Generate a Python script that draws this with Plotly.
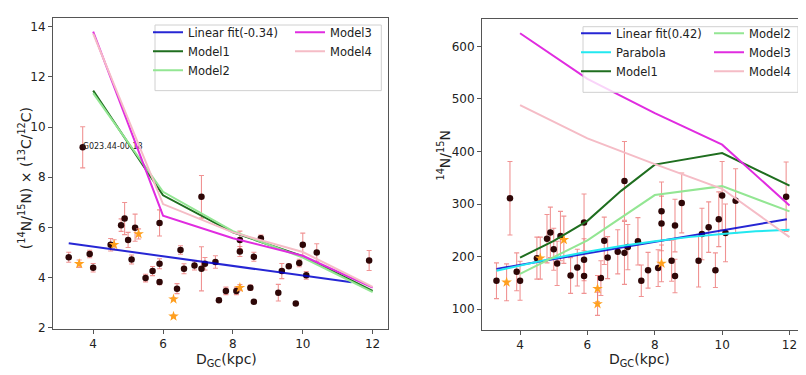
import plotly.graph_objects as go

# ---------------- data ----------------
dgc = [3.30, 3.70, 3.90, 4.00, 4.50, 4.80, 4.90, 5.00, 5.10, 5.20, 5.50, 5.70, 5.90, 5.90, 5.90,
       6.40, 6.50, 6.60, 6.90, 7.10, 7.10, 7.20, 7.50, 7.60, 7.80, 8.10, 8.20, 8.20, 8.50, 8.60,
       8.60, 8.80, 9.30, 9.40, 9.60, 9.80, 9.90, 10.00, 10.10, 10.40, 11.90]
src_labels = ["", "G023.44-00.18"] + [""] * 39

ratio_c = [4.81, 9.19, 4.94, 4.39, 5.31, 6.09, 6.35, 5.50, 4.72, 5.99, 3.98, 4.26, 6.18, 4.55, 3.82,
           3.56, 5.10, 4.35, 4.48, 7.22, 4.35, 4.55, 4.62, 3.10, 3.47, 3.47, 5.04, 5.50, 3.60, 4.83,
           3.04, 5.57, 3.40, 4.26, 4.45, 2.97, 4.58, 5.31, 4.09, 5.00, 4.68]
ratio_c_err = [0.20, 0.82, 0.15, 0.17, 0.25, 0.25, 0.64, 0.30, 0.18, 0.54, 0.15, 0.18, 0.52, 0.20, 0.10,
               0.20, 0.17, 0.20, 0.18, 0.85, 0.88, 0.25, 0.25, 0.08, 0.15, 0.15, 0.20, 0.35, 0.10, 0.18,
               0.05, 0.12, 0.33, 0.30, 0.08, 0.05, 0.15, 0.46, 0.15, 0.35, 0.40]

ratio_n = [154, 311, 171, 154, 197, 234, 246, 214, 187, 239, 164, 179, 265, 194, 163,
           159, 230, 198, 209, 344, 207, 218, 229, 154, 174, 178, 286, 263, 192, 259,
           163, 302, 192, 243, 256, 174, 271, 316, 245, 306, 314]
ratio_n_err = [34, 70, 36, 37, 40, 46, 48, 40, 42, 47, 34, 35, 54, 40, 33,
               33, 45, 40, 42, 75, 60, 43, 45, 30, 34, 35, 56, 52, 39, 50,
               32, 57, 50, 49, 48, 33, 52, 65, 55, 61, 66]

star_dgc = [3.60, 4.60, 5.30, 6.30, 6.30, 8.20]
star_c = [4.55, 5.31, 5.74, 3.14, 2.46, 3.60]
star_c_err = [0.15, 0.20, 0.20, 0.05, 0.05, 0.12]
star_n = [151, 197, 232, 139, 110, 187]
star_n_err = [35, 40, 45, 25, 22, 35]

# left panel fits / models
lin_c_x = [3.30, 11.40]
lin_c_y = [5.37, 3.81]
model_x = [4, 6, 8, 10, 12]
m1_c = [11.45, 7.28, 5.80, 4.85, 3.47]
m2_c = [11.35, 7.42, 5.85, 4.80, 3.42]
m3_c = [13.80, 6.47, 5.57, 4.87, 3.60]
m4_c = [13.72, 6.93, 5.80, 5.02, 3.63]

# right panel fits / models
lin_n_x = [3.30, 11.92]
lin_n_y = [176.6, 271.0]
par_x = [3.3, 4, 5, 6, 7, 8, 9, 10, 11, 12]
par_y = [173, 183, 197, 209, 220, 229, 237, 243, 248, 251]
m1_n_x = [4, 5, 6, 7, 8, 10, 12]
m1_n = [198, 230, 268, 325, 375, 397, 335]
m2_n = [167, 231, 317, 334, 286]
m3_n = [625, 538, 473, 413, 297]
m4_n = [488, 425, 376, 329, 237]

# ---------------- styles ----------------
FONT = "DejaVu Sans"
PT_COL = "#2e0707"
ERR_COL = "rgba(236,120,120,0.8)"
STAR_COL = "#ffa01e"
C_LIN = "rgba(0,0,205,0.85)"
C_PAR = "#22e8f0"
C_M1 = "#1f6e1f"
C_M2 = "#93e693"
C_M3 = "#e02ce0"
C_M4 = "#f5bcc6"

fig = go.Figure()

def add_points(xa, ya, x, y, err, star=False):
    fig.add_trace(go.Scatter(
        x=x, y=y, xaxis=xa, yaxis=ya, mode="markers",
        marker=dict(symbol="star" if star else "circle", size=8 if star else 6.5,
                    color=STAR_COL if star else PT_COL, line=dict(width=0)),
        error_y=dict(type="data", array=err, visible=True, color=ERR_COL,
                     thickness=1.1, width=2.5),
        showlegend=False, hoverinfo="skip"))

add_points("x", "y", dgc, ratio_c, ratio_c_err)
add_points("x", "y", star_dgc, star_c, star_c_err, star=True)
add_points("x2", "y2", dgc, ratio_n, ratio_n_err)
add_points("x2", "y2", star_dgc, star_n, star_n_err, star=True)

# source name label(s)
lab_idx = [i for i, s in enumerate(src_labels) if s]
fig.add_trace(go.Scatter(
    x=[dgc[i] for i in lab_idx], y=[ratio_c[i] for i in lab_idx],
    text=[src_labels[i] for i in lab_idx], mode="text", textposition="middle right",
    textfont=dict(size=8, color="#222", family=FONT), showlegend=False, hoverinfo="skip"))

def add_line(xa, ya, x, y, name, color, legend, width=2.0):
    fig.add_trace(go.Scatter(x=x, y=y, xaxis=xa, yaxis=ya, mode="lines", name=name,
                             line=dict(color=color, width=width), legend=legend,
                             hoverinfo="skip"))

# left
add_line("x", "y", lin_c_x, lin_c_y, "Linear fit(-0.34)", C_LIN, "legend")
add_line("x", "y", model_x, m1_c, "Model1", C_M1, "legend")
add_line("x", "y", model_x, m2_c, "Model2", C_M2, "legend")
add_line("x", "y", model_x, m3_c, "Model3", C_M3, "legend2")
add_line("x", "y", model_x, m4_c, "Model4", C_M4, "legend2")
# right
add_line("x2", "y2", lin_n_x, lin_n_y, "Linear fit(0.42)", C_LIN, "legend3")
add_line("x2", "y2", par_x, par_y, "Parabola", C_PAR, "legend3")
add_line("x2", "y2", m1_n_x, m1_n, "Model1", C_M1, "legend3")
add_line("x2", "y2", model_x, m2_n, "Model2", C_M2, "legend4")
add_line("x2", "y2", model_x, m3_n, "Model3", C_M3, "legend4")
add_line("x2", "y2", model_x, m4_n, "Model4", C_M4, "legend4")

W, H = 806, 375
def px(v): return v / W
def py(v): return (H - v) / H

axis_common = dict(showgrid=False, zeroline=False, showline=True, mirror=True,
                   linecolor="#555", linewidth=1, ticks="outside", ticklen=4,
                   tickcolor="#555", tickfont=dict(size=12, family=FONT, color="#222"))

leg_common = dict(bgcolor="rgba(0,0,0,0)", borderwidth=0, font=dict(size=11.5, family=FONT, color="#222"),
                  itemwidth=30, tracegroupgap=0, yanchor="top", xanchor="left",
                  traceorder="normal")

title_font = dict(size=14, family=FONT, color="#222")

fig.update_layout(
    width=W, height=H, margin=dict(l=0, r=0, t=0, b=0),
    paper_bgcolor="white", plot_bgcolor="white",
    font=dict(family=FONT),
    xaxis=dict(domain=[px(45), px(380)], range=[2.85, 12.44], tickvals=[4, 6, 8, 10, 12],
               anchor="y", **axis_common),
    yaxis=dict(domain=[py(326), py(10)], range=[1.96, 14.35], tickvals=[2, 4, 6, 8, 10, 12, 14],
               anchor="x", **axis_common),
    xaxis2=dict(domain=[px(474), px(797)], range=[2.87, 12.46], tickvals=[4, 6, 8, 10, 12],
                anchor="y2", **axis_common),
    yaxis2=dict(domain=[py(327), py(11)], range=[60.7, 652.4], tickvals=[100, 200, 300, 400, 500, 600],
                anchor="x2", **axis_common),
    legend=dict(x=px(140), y=py(10), **leg_common),
    legend2=dict(x=px(282), y=py(10), **leg_common),
    legend3=dict(x=px(568), y=py(11), **leg_common),
    legend4=dict(x=px(701), y=py(11), **leg_common),
    shapes=[
        dict(type="rect", xref="paper", yref="paper", x0=px(147), x1=px(373.3),
             y0=py(84), y1=py(17.3), fillcolor="rgba(255,255,255,0.8)",
             line=dict(color="#d0d0d0", width=1), layer="above"),
        dict(type="rect", xref="paper", yref="paper", x0=px(575), x1=px(790),
             y0=py(85.7), y1=py(19), fillcolor="rgba(255,255,255,0.8)",
             line=dict(color="#d0d0d0", width=1), layer="above"),
    ],
    annotations=[
        dict(text="D<sub>GC</sub>(kpc)", x=px(218), y=py(358), xref="paper", yref="paper",
             xanchor="center", yanchor="middle", showarrow=False, font=title_font),
        dict(text="D<sub>GC</sub>(kpc)", x=px(631), y=py(358), xref="paper", yref="paper",
             xanchor="center", yanchor="middle", showarrow=False, font=title_font),
        dict(text="(<sup>14</sup>N/<sup>15</sup>N) × (<sup>13</sup>C/<sup>12</sup>C)",
             x=px(17), y=py(173), xref="paper", yref="paper", textangle=-90,
             xanchor="center", yanchor="middle", showarrow=False, font=title_font),
        dict(text="<sup>14</sup>N/<sup>15</sup>N",
             x=px(436), y=py(150), xref="paper", yref="paper", textangle=-90,
             xanchor="center", yanchor="middle", showarrow=False, font=title_font),
    ],
)

fig.write_html("out.html")
